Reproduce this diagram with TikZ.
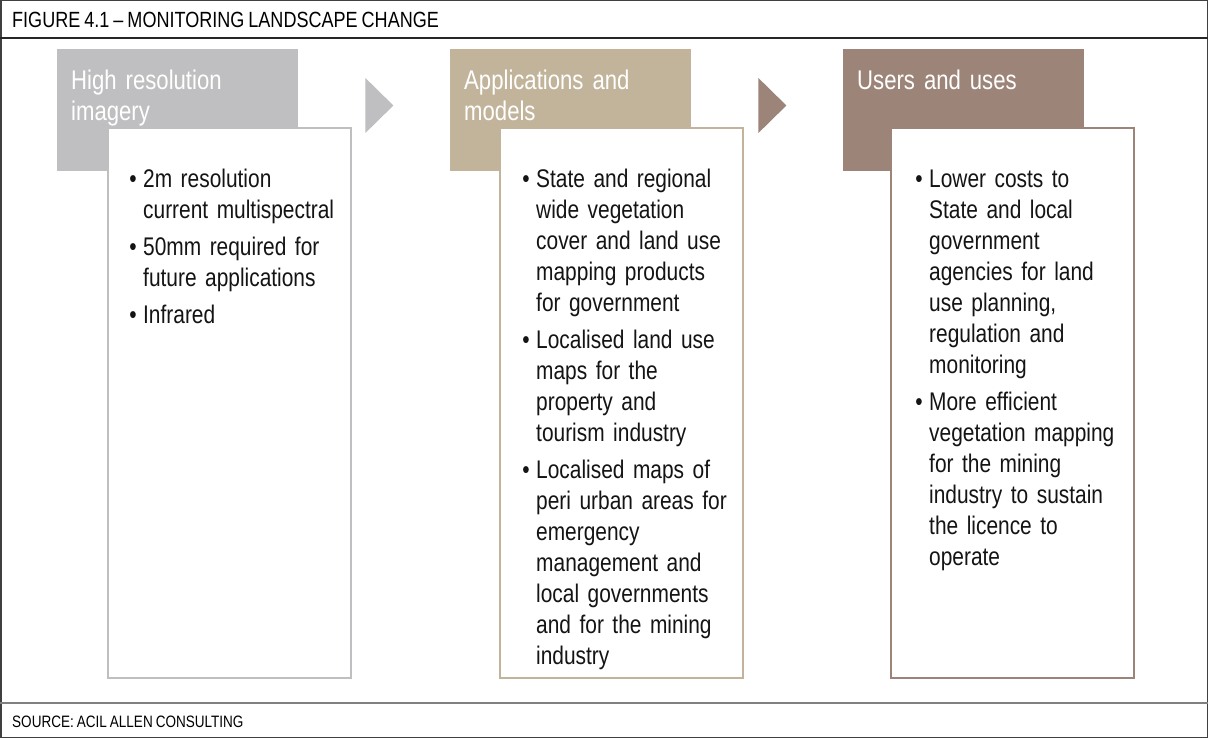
\documentclass[tikz,border=0pt]{standalone}
\usepackage{fontspec}
\setmainfont{Liberation Sans}[FakeStretch=0.82, WordSpace=0.8]
\usetikzlibrary{positioning}
\definecolor{imggray}{RGB}{191,191,193}
\definecolor{modtan}{RGB}{194,180,155}
\definecolor{usebrown}{RGB}{156,132,120}
\definecolor{framegray}{RGB}{64,64,64}

\newcommand{\bulitem}[1]{\par\noindent\llap{\textbullet\hspace{6.5pt}}#1\par\vspace{6pt}}
\newcommand{\tightspace}{\spaceskip=0.2em\relax}

\tikzset{
  headbox/.style={anchor=north west, minimum width=241pt, minimum height=122pt, inner sep=0pt, fill=#1},
  listbox/.style={anchor=north west, minimum width=243pt, minimum height=550pt, inner sep=0pt, draw=#1, line width=2pt, fill=white},
  headtext/.style={anchor=north west, inner sep=0pt, text width=220pt, text=white, font=\fontsize{27}{31}\selectfont\raggedright\tightspace},
  listtext/.style={anchor=north west, inner sep=0pt, text width=215pt, text=black!92, font=\fontsize{25.5}{31}\selectfont\raggedright\tightspace}
}

\begin{document}
\begin{tikzpicture}[x=1pt,y=-1pt]
        \useasboundingbox (0,0) rectangle (1208,738);
        % frame
        \draw[framegray, line width=1.5pt] (0.75,0.75) rectangle (1207.25,737.25);
        \draw[black!85, line width=1.5pt] (0,38) -- (1208,38);
        \draw[black!50, line width=2pt] (0,703) -- (1208,703);
        \node[anchor=base west, inner sep=0pt, font=\fontsize{22}{26}\selectfont] (title) at (12,28) {FIGURE 4.1 – MONITORING LANDSCAPE CHANGE};
        \node[anchor=base west, inner sep=0pt, font=\fontsize{16.5}{19}\selectfont] (source) at (12,727) {SOURCE: ACIL ALLEN CONSULTING};
        % headers
        \node[headbox=imggray] (head1) at (57,49) {};
        \node[headbox=modtan] (head2) at (450,49) {};
        \node[headbox=usebrown] (head3) at (843,49) {};
        \node[headtext] (headtxt1) at ([shift={(14,21)}]head1.north west) {High resolution\\imagery};
        \node[headtext] (headtxt2) at ([shift={(14,21)}]head2.north west) {Applications and\\models};
        \node[headtext] (headtxt3) at ([shift={(14,21)}]head3.north west) {Users and uses};
        % arrows
        \fill[imggray] ([shift={(67,29)}]head1.north east) -- ++(28,27.5) -- ++(-28,27.5) -- cycle;
        \fill[usebrown] ([shift={(67,29)}]head2.north east) -- ++(28,27.5) -- ++(-28,27.5) -- cycle;
        % lists
        \node[listbox=imggray] (list1) at ([shift={(50,78)}]head1.north west) {};
        \node[listbox=modtan] (list2) at ([shift={(49,78)}]head2.north west) {};
        \node[listbox=usebrown] (list3) at ([shift={(47,78)}]head3.north west) {};
        \node[listtext] (listtxt1) at ([shift={(36,29)}]list1.north west) {%
            \bulitem{2m resolution\\current multispectral}
            \bulitem{50mm required for\\future applications}
            \bulitem{Infrared}};
        \node[listtext] (listtxt2) at ([shift={(37,29)}]list2.north west) {%
            \bulitem{State and regional\\wide vegetation\\cover and land use\\mapping products\\for government}
            \bulitem{Localised land use\\maps for the\\property and\\tourism industry}
            \bulitem{Localised maps of\\peri urban areas for\\emergency\\management and\\local governments\\and for the mining\\industry}};
        \node[listtext] (listtxt3) at ([shift={(39,29)}]list3.north west) {%
            \bulitem{Lower costs to\\State and local\\government\\agencies for land\\use planning,\\regulation and\\monitoring}
            \bulitem{More efficient\\vegetation mapping\\for the mining\\industry to sustain\\the licence to\\operate}};
    \end{tikzpicture}
\end{document}
